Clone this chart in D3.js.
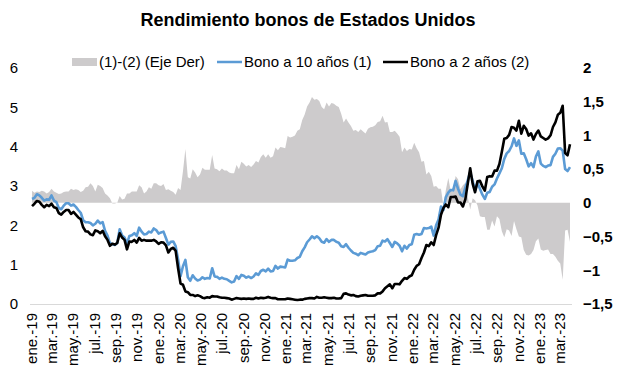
<!DOCTYPE html>
<html><head><meta charset="utf-8">
<script src="https://cdn.jsdelivr.net/npm/d3@7"></script>
<style>body{margin:0;background:#fff}svg{display:block}text{font-family:"Liberation Sans",Arial,sans-serif;fill:#000}</style>
</head><body><svg id="c" width="617" height="382"></svg>
<script>
// Weekly (Friday) observations starting 2019-01-04
const startDate = "2019-01-04";
const bono10_2019 = [2.67,2.70,2.79,2.76,2.70,2.63,2.66,2.65,2.76,2.63,2.59,2.44,2.41,
  2.50,2.56,2.56,2.50,2.53,2.47,2.39,2.32,2.13,2.08,2.08,2.06,2.00,
  2.04,2.12,2.05,2.08,1.86,1.74,1.55,1.52,1.50,1.55,1.90,1.74,1.69,
  1.53,1.73,1.75,1.80,1.73,1.94,1.84,1.77,1.78,1.84,1.82,1.92,1.88];
const bono10_2020 = [1.79,1.82,1.84,1.68,1.51,1.58,1.59,1.47,1.13,0.71,0.96,1.12,0.68,
  0.59,0.73,0.65,0.60,0.62,0.68,0.64,0.66,0.65,0.91,0.70,0.69,0.64,
  0.67,0.64,0.63,0.59,0.55,0.57,0.71,0.64,0.74,0.72,0.67,0.70,0.66,
  0.70,0.78,0.74,0.84,0.87,0.83,0.90,0.83,0.84,0.97,0.90,0.95,0.94];
const bono10_2021 = [0.93,1.13,1.10,1.10,1.11,1.17,1.20,1.34,1.44,1.57,1.64,1.72,1.67,
  1.72,1.67,1.58,1.56,1.65,1.58,1.63,1.63,1.58,1.56,1.47,1.45,1.52,
  1.43,1.36,1.30,1.28,1.24,1.30,1.28,1.26,1.31,1.33,1.34,1.37,1.47,
  1.48,1.61,1.59,1.65,1.55,1.45,1.58,1.54,1.48,1.34,1.48,1.41,1.50,1.52];
const bono10_2022 = [1.76,1.78,1.76,1.78,1.93,1.92,1.93,1.97,1.74,2.00,2.15,2.48,2.39,
  2.72,2.83,2.90,2.89,3.13,2.93,2.78,2.74,2.96,3.15,3.35,3.13,2.88,
  3.08,2.93,2.78,2.67,2.83,2.85,2.98,3.04,3.19,3.32,3.45,3.69,3.83,
  3.89,4.01,4.21,4.02,4.16,3.82,3.83,3.68,3.50,3.58,3.48,3.75,3.88];
const bono10_2023 = [3.57,3.51,3.48,3.52,3.53,3.74,3.82,3.95,3.96,3.90,3.43,3.38,3.48];

const bono2_2019 = [2.49,2.55,2.62,2.60,2.52,2.46,2.52,2.49,2.55,2.46,2.44,2.31,2.27,
  2.34,2.39,2.39,2.29,2.34,2.27,2.20,2.16,1.95,1.85,1.84,1.77,1.75,
  1.87,1.85,1.80,1.86,1.72,1.63,1.48,1.53,1.51,1.55,1.80,1.69,1.63,
  1.39,1.59,1.58,1.63,1.56,1.68,1.61,1.63,1.61,1.61,1.61,1.63,1.59];
const bono2_2020 = [1.53,1.57,1.56,1.49,1.31,1.40,1.43,1.35,0.91,0.52,0.49,0.32,0.30,
  0.23,0.23,0.20,0.22,0.20,0.16,0.15,0.17,0.16,0.20,0.19,0.19,0.17,
  0.16,0.16,0.15,0.14,0.11,0.13,0.15,0.14,0.13,0.14,0.13,0.14,0.13,
  0.13,0.16,0.14,0.16,0.15,0.16,0.18,0.16,0.15,0.15,0.12,0.12,0.12];
const bono2_2021 = [0.12,0.14,0.13,0.12,0.11,0.10,0.11,0.11,0.13,0.14,0.15,0.15,0.14,
  0.18,0.16,0.16,0.17,0.16,0.15,0.15,0.16,0.14,0.14,0.15,0.26,0.27,
  0.24,0.22,0.23,0.20,0.19,0.21,0.22,0.23,0.21,0.21,0.21,0.22,0.27,
  0.27,0.32,0.40,0.45,0.50,0.40,0.51,0.51,0.50,0.59,0.66,0.64,0.70,0.73];
const bono2_2022 = [0.87,0.97,1.01,1.17,1.31,1.50,1.47,1.57,1.50,1.75,1.94,2.27,2.44,
  2.53,2.46,2.72,2.72,2.73,2.58,2.58,2.48,2.66,3.06,3.45,3.06,2.84,
  3.12,3.13,2.99,2.88,3.23,3.25,3.24,3.39,3.39,3.56,3.87,4.20,4.22,
  4.30,4.50,4.48,4.41,4.66,4.33,4.53,4.45,4.28,4.34,4.18,4.32,4.41];
const bono2_2023 = [4.26,4.22,4.18,4.21,4.29,4.50,4.62,4.81,4.86,5.04,3.84,3.78,4.06];

const leftTicks = [0,1,2,3,4,5,6];
const rightTicks = [-1.5,-1,-0.5,0,0.5,1,1.5,2];
const monthAbbr = ["ene.","feb.","mar.","abr.","may.","jun.","jul.","ago.","sep.","oct.","nov.","dic."];
const seriesNames = ["(1)-(2) (Eje Der)","Bono a 10 años (1)","Bono a 2 años (2)"];
const titleText = "Rendimiento bonos de Estados Unidos";

const bono10 = [].concat(bono10_2019,bono10_2020,bono10_2021,bono10_2022,bono10_2023);
const bono2 = [].concat(bono2_2019,bono2_2020,bono2_2021,bono2_2022,bono2_2023);
const t0 = d3.timeParse("%Y-%m-%d")(startDate);
const data = bono10.map((v,i)=>({date:d3.timeDay.offset(t0,7*i), b10:v, b2:bono2[i], spread:v-bono2[i]}));

const svg = d3.select("#c");
const x = d3.scaleTime().domain([new Date(2019,0,1), new Date(2023,2,31)]).range([31,570]);
const yL = d3.scaleLinear().domain([0,6]).range([304,68]);
const yR = d3.scaleLinear().domain([-1.5,2]).range([304,68]);
const loc = d3.formatLocale({decimal:",",thousands:".",grouping:[3],currency:["","€"]});
const fmtR = v => loc.format("~g")(v);

// spread area
svg.append("path").datum(data)
  .attr("fill","#cdcbcc")
  .attr("d", d3.area().x(d=>x(d.date)).y0(yR(0)).y1(d=>yR(d.spread)));

// x axis
const xTicks = d3.timeMonth.range(new Date(2019,0,1), new Date(2023,3,1), 2);
const gx = svg.append("g").attr("transform","translate(0,304)")
  .call(d3.axisBottom(x).tickValues(xTicks).tickSize(0).tickSizeOuter(0)
    .tickFormat(d=>monthAbbr[d.getMonth()]+"-"+d3.timeFormat("%y")(d)));
gx.select(".domain").attr("stroke","#d9d9d9").attr("d","M30,0.5H572");
gx.selectAll("text").attr("transform","rotate(-90)").attr("text-anchor","end")
  .attr("x",-9).attr("y",0).attr("dy","0.35em").style("font-size","15px");

// left axis
const gl = svg.append("g").attr("transform","translate(18,0)")
  .call(d3.axisLeft(yL).tickValues(leftTicks).tickSize(0).tickPadding(0).tickFormat(d3.format("d")));
gl.select(".domain").remove();
gl.selectAll("text").style("font-size","15px");

// right axis
const gr = svg.append("g").attr("transform","translate(583,0)")
  .call(d3.axisRight(yR).tickValues(rightTicks).tickSize(0).tickPadding(0).tickFormat(fmtR));
gr.select(".domain").remove();
gr.selectAll("text").style("font-size","15px").style("font-weight","bold");

// lines
svg.append("path").datum(data).attr("fill","none").attr("stroke","#5b9bd5").attr("stroke-width",2.6)
  .attr("stroke-linejoin","round")
  .attr("d", d3.line().x(d=>x(d.date)).y(d=>yL(d.b10)));
svg.append("path").datum(data).attr("fill","none").attr("stroke","#000").attr("stroke-width",2.6)
  .attr("stroke-linejoin","round")
  .attr("d", d3.line().x(d=>x(d.date)).y(d=>yL(d.b2)));

// title
svg.append("text").attr("x",308).attr("y",26).attr("text-anchor","middle")
  .style("font-size","18px").style("font-weight","bold").text(titleText);

// legend
const lg = svg.append("g").style("font-size","15px");
lg.append("rect").attr("x",72).attr("y",58).attr("width",25).attr("height",8).attr("fill","#cdcbcc");
lg.append("text").attr("x",99).attr("y",67).text(seriesNames[0]);
lg.append("line").attr("x1",217).attr("x2",242).attr("y1",62).attr("y2",62).attr("stroke","#5b9bd5").attr("stroke-width",2.5);
lg.append("text").attr("x",244).attr("y",67).text(seriesNames[1]);
lg.append("line").attr("x1",383).attr("x2",408).attr("y1",62).attr("y2",62).attr("stroke","#000").attr("stroke-width",2.5);
lg.append("text").attr("x",410).attr("y",67).text(seriesNames[2]);
</script></body></html>
